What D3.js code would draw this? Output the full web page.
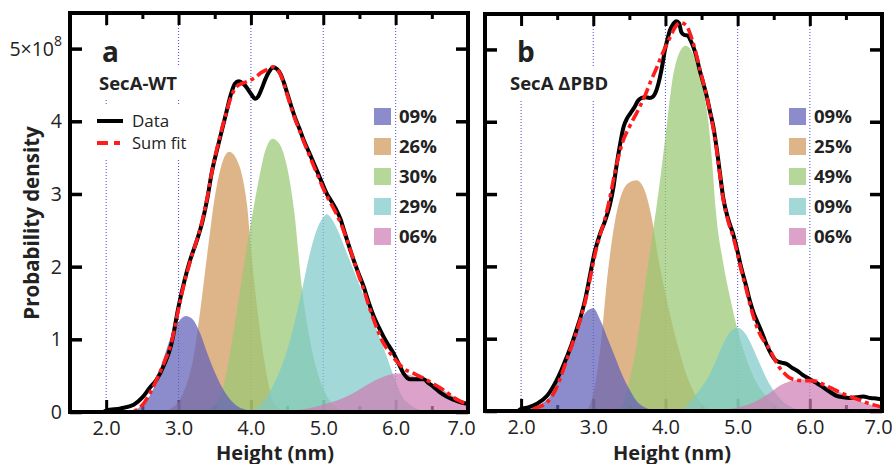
<!DOCTYPE html>
<html>
<head>
<meta charset="utf-8">
<script src="https://cdn.jsdelivr.net/npm/d3@7"></script>
<style>
  body { margin: 0; background: #fff; }
  text { font-family: "Open Sans", "DejaVu Sans", sans-serif; fill: #222; }
</style>
</head>
<body>
<svg id="chart" width="892" height="464"></svg>
<script>
// Height histograms of SecA (probability density, units of 1e8) with Gaussian-like component fits.

const xMajorTicks = [2, 3, 4, 5, 6, 7];
const xMinorTicks = [1.5, 2.5, 3.5, 4.5, 5.5, 6.5];
const yTicks = [0, 1, 2, 3, 4, 5];

const legendLabelsA = ["09%", "26%", "30%", "29%", "06%"];
const legendLabelsB = ["09%", "25%", "49%", "09%", "06%"];

// Panel a: SecA-WT  — [height (nm), density (1e8)]
const dataA = [[1.5,0],[1.95,0],[2.0,0.02],[2.2,0.05],[2.38,0.1],[2.5,0.2],[2.6,0.33],[2.7,0.45],[2.8,0.65],[2.9,0.93],
  [3.0,1.45],[3.08,1.8],[3.16,2.09],[3.25,2.35],[3.33,2.62],[3.4,2.95],[3.46,3.3],[3.53,3.6],[3.6,3.88],[3.66,4.12],
  [3.72,4.36],[3.78,4.52],[3.83,4.55],[3.88,4.53],[3.93,4.48],[4.0,4.38],[4.06,4.31],[4.1,4.34],[4.15,4.45],[4.2,4.58],
  [4.25,4.68],[4.31,4.74],[4.36,4.72],[4.41,4.65],[4.46,4.52],[4.5,4.39],[4.56,4.2],[4.61,4.05],[4.67,3.9],[4.73,3.74],
  [4.8,3.58],[4.87,3.42],[4.93,3.28],[4.98,3.16],[5.05,3.0],[5.1,2.92],[5.17,2.8],[5.24,2.65],[5.28,2.52],[5.35,2.3],
  [5.42,2.09],[5.49,1.9],[5.56,1.72],[5.63,1.5],[5.7,1.31],[5.77,1.16],[5.83,1.04],[5.9,0.92],[5.97,0.81],[6.04,0.67],
  [6.11,0.53],[6.16,0.47],[6.2,0.45],[6.3,0.45],[6.39,0.45],[6.45,0.4],[6.52,0.35],[6.6,0.28],[6.71,0.21],[6.85,0.15],[7.0,0.11]];

const fitA = [[1.5,0],[2.35,0],[2.45,0.05],[2.52,0.12],[2.6,0.25],[2.7,0.45],[2.8,0.68],[2.9,0.95],[3.0,1.42],[3.08,1.78],
  [3.16,2.07],[3.25,2.36],[3.33,2.64],[3.4,2.97],[3.46,3.3],[3.53,3.62],[3.6,3.9],[3.66,4.12],[3.72,4.32],[3.78,4.45],
  [3.85,4.51],[3.93,4.54],[4.0,4.57],[4.07,4.61],[4.13,4.66],[4.2,4.7],[4.26,4.73],[4.31,4.75],[4.36,4.72],[4.41,4.64],
  [4.46,4.5],[4.5,4.37],[4.56,4.18],[4.61,4.03],[4.67,3.88],[4.73,3.72],[4.8,3.55],[4.87,3.38],[4.93,3.24],[4.98,3.12],
  [5.05,2.97],[5.1,2.88],[5.17,2.75],[5.24,2.6],[5.28,2.5],[5.35,2.3],[5.42,2.09],[5.49,1.88],[5.56,1.68],[5.63,1.46],
  [5.7,1.26],[5.77,1.08],[5.83,0.95],[5.9,0.84],[5.97,0.75],[6.04,0.67],[6.11,0.6],[6.25,0.53],[6.43,0.44],[6.62,0.33],
  [6.85,0.17],[7.0,0.1]];

const comp1A = [[2.2,0],[2.3,0.01],[2.4,0.03],[2.5,0.1],[2.6,0.22],[2.7,0.44],[2.8,0.76],[2.9,1.05],[3.0,1.24],[3.1,1.32],
  [3.2,1.27],[3.3,1.08],[3.4,0.8],[3.5,0.55],[3.6,0.34],[3.7,0.19],[3.8,0.09],[3.9,0.04],[4.0,0.01],[4.1,0]];
const comp2A = [[2.8,0],[2.9,0.05],[3.0,0.14],[3.1,0.35],[3.2,0.72],[3.3,1.4],[3.4,2.2],[3.5,2.95],[3.6,3.42],[3.7,3.58],
  [3.8,3.48],[3.9,3.15],[3.95,2.82],[4.0,2.25],[4.1,1.32],[4.2,0.62],[4.3,0.16],[4.4,0.04],[4.5,0]];
const comp3A = [[3.3,0],[3.4,0.04],[3.5,0.11],[3.6,0.28],[3.7,0.75],[3.8,1.35],[3.9,2.0],[4.0,2.6],[4.1,3.15],[4.2,3.6],
  [4.3,3.76],[4.4,3.68],[4.5,3.37],[4.6,2.75],[4.7,1.75],[4.8,1.08],[4.9,0.62],[5.0,0.32],[5.1,0.14],[5.2,0.05],[5.3,0.01],[5.4,0]];
const comp4A = [[3.9,0],[4.0,0.02],[4.1,0.06],[4.2,0.18],[4.3,0.35],[4.4,0.57],[4.5,0.85],[4.6,1.22],[4.7,1.65],[4.8,2.12],
  [4.9,2.48],[5.0,2.68],[5.05,2.72],[5.1,2.68],[5.2,2.5],[5.3,2.25],[5.4,2.0],[5.5,1.75],[5.6,1.48],[5.7,1.23],[5.8,0.97],
  [5.9,0.7],[6.0,0.42],[6.1,0.2],[6.2,0.1],[6.3,0.04],[6.4,0.01],[6.5,0]];
const comp5A = [[4.4,0],[4.6,0.02],[4.8,0.05],[5.0,0.1],[5.2,0.16],[5.4,0.25],[5.6,0.37],[5.8,0.47],[6.0,0.53],[6.1,0.53],
  [6.2,0.51],[6.4,0.43],[6.6,0.33],[6.8,0.22],[7.0,0.13]];

// Panel b: SecA ΔPBD
const dataB = [[1.5,0],[1.95,0],[2.0,0.03],[2.1,0.05],[2.22,0.1],[2.36,0.21],[2.49,0.42],[2.56,0.57],[2.63,0.74],[2.7,0.92],
  [2.77,1.13],[2.83,1.32],[2.89,1.55],[2.95,1.85],[3.02,2.2],[3.09,2.44],[3.16,2.62],[3.23,2.85],[3.28,3.1],[3.32,3.38],
  [3.37,3.68],[3.42,3.93],[3.47,4.05],[3.51,4.11],[3.57,4.2],[3.62,4.29],[3.67,4.33],[3.72,4.34],[3.78,4.33],[3.83,4.35],
  [3.88,4.45],[3.92,4.6],[3.96,4.8],[3.99,4.98],[4.03,5.15],[4.06,5.26],[4.1,5.34],[4.15,5.39],[4.19,5.36],[4.22,5.24],
  [4.26,5.2],[4.31,5.19],[4.35,5.12],[4.38,5.05],[4.43,4.9],[4.47,4.73],[4.52,4.55],[4.57,4.36],[4.62,4.13],[4.66,3.95],
  [4.71,3.63],[4.76,3.25],[4.8,2.95],[4.87,2.65],[4.94,2.44],[5.0,2.2],[5.05,1.98],[5.12,1.72],[5.17,1.52],[5.22,1.36],
  [5.26,1.26],[5.33,1.1],[5.4,0.92],[5.47,0.78],[5.54,0.69],[5.61,0.67],[5.68,0.65],[5.75,0.6],[5.82,0.56],[5.9,0.5],
  [6.0,0.44],[6.09,0.39],[6.18,0.33],[6.27,0.27],[6.37,0.21],[6.46,0.19],[6.55,0.18],[6.65,0.19],[6.74,0.2],[6.84,0.18],
  [6.94,0.17],[7.0,0.16]];

const fitB = [[1.5,0],[2.1,0],[2.2,0.04],[2.36,0.12],[2.49,0.32],[2.56,0.5],[2.63,0.7],[2.7,0.9],[2.77,1.1],[2.83,1.3],
  [2.89,1.52],[2.95,1.8],[3.02,2.15],[3.09,2.42],[3.16,2.65],[3.23,2.95],[3.3,3.3],[3.4,3.7],[3.51,3.95],[3.6,4.12],
  [3.72,4.37],[3.8,4.57],[3.88,4.75],[3.97,4.97],[4.06,5.16],[4.13,5.3],[4.2,5.37],[4.28,5.34],[4.33,5.25],[4.38,5.1],
  [4.43,4.92],[4.47,4.75],[4.52,4.56],[4.57,4.36],[4.62,4.12],[4.66,3.92],[4.71,3.6],[4.76,3.22],[4.8,2.93],[4.87,2.62],
  [4.94,2.4],[5.0,2.16],[5.05,1.95],[5.12,1.68],[5.17,1.48],[5.22,1.3],[5.26,1.18],[5.33,1.02],[5.4,0.92],[5.44,0.86],
  [5.51,0.72],[5.58,0.6],[5.65,0.52],[5.72,0.46],[5.8,0.43],[5.9,0.42],[6.0,0.42],[6.09,0.41],[6.18,0.37],[6.27,0.33],
  [6.37,0.28],[6.46,0.24],[6.55,0.2],[6.64,0.17],[6.74,0.13],[6.83,0.1],[6.97,0.06],[7.0,0.05]];

const comp1B = [[2.0,0],[2.1,0.02],[2.2,0.05],[2.3,0.11],[2.4,0.2],[2.5,0.38],[2.6,0.6],[2.7,0.88],[2.8,1.18],[2.9,1.37],
  [3.0,1.42],[3.1,1.25],[3.2,1.0],[3.3,0.75],[3.4,0.5],[3.5,0.3],[3.6,0.14],[3.7,0.06],[3.8,0.02],[3.9,0]];
const comp2B = [[2.9,0],[2.95,0.08],[3.0,0.24],[3.1,0.88],[3.2,1.9],[3.3,2.62],[3.4,3.02],[3.5,3.16],[3.6,3.19],[3.7,3.08],
  [3.8,2.72],[3.9,2.12],[4.0,1.62],[4.1,1.18],[4.2,0.8],[4.3,0.48],[4.4,0.25],[4.5,0.1],[4.6,0.03],[4.7,0]];
const comp3B = [[3.3,0],[3.4,0.08],[3.5,0.42],[3.6,0.9],[3.7,1.62],[3.8,2.3],[3.9,3.0],[4.0,3.8],[4.1,4.6],[4.2,4.97],
  [4.28,5.05],[4.35,5.0],[4.4,4.9],[4.5,4.55],[4.6,3.95],[4.65,3.4],[4.7,2.75],[4.8,2.05],[4.9,1.55],[5.0,1.12],[5.1,0.78],
  [5.2,0.52],[5.3,0.33],[5.4,0.2],[5.5,0.1],[5.6,0.04],[5.7,0]];
const comp4B = [[4.2,0],[4.3,0.08],[4.4,0.2],[4.5,0.33],[4.6,0.48],[4.7,0.7],[4.8,0.93],[4.9,1.1],[5.0,1.15],[5.1,1.08],
  [5.2,0.9],[5.3,0.67],[5.4,0.45],[5.5,0.28],[5.6,0.16],[5.7,0.08],[5.8,0.03],[5.9,0]];
const comp5B = [[4.6,0],[4.8,0.02],[5.0,0.05],[5.2,0.11],[5.4,0.22],[5.6,0.36],[5.8,0.43],[5.9,0.44],[6.0,0.43],[6.2,0.36],
  [6.4,0.27],[6.6,0.17],[6.8,0.1],[7.0,0.05]];

// ---- styling ----
const compColors = ["#5f5fba", "#d0985a", "#98c973", "#7ec9c9", "#ce7eb4"];
const compOpacity = 0.72;
const drawOrder = [1, 2, 3, 4, 0];   // ochre, green, cyan, pink, then blue on top
const numFont = "Liberation Sans, Arial, sans-serif";

const svg = d3.select("#chart");
svg.append("rect").attr("width", 892).attr("height", 464).attr("fill", "#fff");

const panels = [
  { label: "a", title: "SecA-WT", frame: { left: 70, right: 468, top: 13, bottom: 412 },
    data: dataA, fit: fitA, comps: [comp1A, comp2A, comp3A, comp4A, comp5A], legend: legendLabelsA,
    showYLabels: true, showKey: true, legendX: 374, xTitleX: 275, lastLabelShift: -7 },
  { label: "b", title: "SecA \u0394PBD", frame: { left: 485, right: 882, top: 14, bottom: 411 },
    data: dataB, fit: fitB, comps: [comp1B, comp2B, comp3B, comp4B, comp5B], legend: legendLabelsB,
    showYLabels: false, showKey: false, legendX: 789, xTitleX: 672, lastLabelShift: -4 }
];

function knockout(layer, textSel, pad) {
  const b = textSel.node().getBBox();
  layer.insert("rect", () => textSel.node())
    .attr("x", b.x - pad).attr("y", b.y - pad)
    .attr("width", b.width + 2 * pad).attr("height", b.height + 2 * pad)
    .attr("fill", "#fff");
}

panels.forEach(p => {
  const f = p.frame;
  const x = d3.scaleLinear().domain([1.5, 7.0]).range([f.left, f.right]);
  const y = d3.scaleLinear().domain([0, 5.49]).range([f.bottom, f.top]);

  const g = svg.append("g");
  const gGrid = g.append("g");
  const gTicks = g.append("g");
  const gNotes = g.append("g");
  const gFills = g.append("g");
  const gLines = g.append("g");
  const gFrame = g.append("g");
  const gLegend = g.append("g");

  // dotted vertical grid
  gGrid.selectAll("line").data(xMajorTicks.filter(d => d < 7)).join("line")
    .attr("x1", d => x(d)).attr("x2", d => x(d))
    .attr("y1", f.top).attr("y2", f.bottom)
    .attr("stroke", "#5b5bd6").attr("stroke-width", 1.1).attr("stroke-dasharray", "1,2");

  // inward ticks on all four sides
  const styleAxis = (sel, w) => {
    sel.select(".domain").remove();
    sel.selectAll(".tick line").attr("stroke", "#000").attr("stroke-width", w);
  };
  const bottomMajor = gTicks.append("g").attr("transform", `translate(0,${f.bottom})`)
    .call(d3.axisBottom(x).tickValues(xMajorTicks).tickSize(-12).tickPadding(8.5).tickFormat(d3.format(".1f")));
  styleAxis(bottomMajor, 3);
  bottomMajor.selectAll("text").attr("font-size", 20).attr("font-family", numFont).attr("fill", "#222");
  bottomMajor.selectAll(".tick").filter(d => d === 7).select("text").attr("dx", p.lastLabelShift);
  styleAxis(gTicks.append("g").attr("transform", `translate(0,${f.bottom})`)
    .call(d3.axisBottom(x).tickValues(xMinorTicks).tickSize(-6).tickFormat("")), 3);
  styleAxis(gTicks.append("g").attr("transform", `translate(0,${f.top})`)
    .call(d3.axisTop(x).tickValues(xMajorTicks).tickSize(-12).tickFormat("")), 3);
  styleAxis(gTicks.append("g").attr("transform", `translate(0,${f.top})`)
    .call(d3.axisTop(x).tickValues(xMinorTicks).tickSize(-6).tickFormat("")), 3);
  styleAxis(gTicks.append("g").attr("transform", `translate(${f.left},0)`)
    .call(d3.axisLeft(y).tickValues(yTicks).tickSize(-12).tickFormat("")), 3.5);
  styleAxis(gTicks.append("g").attr("transform", `translate(${f.right},0)`)
    .call(d3.axisRight(y).tickValues(yTicks).tickSize(-12).tickFormat("")), 3.5);

  // y tick labels
  if (p.showYLabels) {
    yTicks.forEach(v => {
      const t = g.append("text").attr("x", f.left - 8).attr("y", y(v)).attr("dy", "0.36em")
        .attr("text-anchor", "end").attr("font-size", 19.5).attr("font-family", numFont);
      if (v === 5) {
        t.append("tspan").text("5\u00d710");
        t.append("tspan").attr("font-size", 14).attr("dy", -10).text("8");
      } else {
        t.text(v);
      }
    });
  }

  // panel letter and sample name
  const letter = gNotes.append("text").attr("x", f.left + 32).attr("y", 62)
    .attr("font-size", 28).attr("font-weight", "bold").attr("fill", "#000").text(p.label);
  knockout(gNotes, letter, 6);
  const title = gNotes.append("text").attr("x", f.left + (p.label === "a" ? 29 : 25)).attr("y", 90)
    .attr("font-size", 18.5).attr("font-weight", "bold").text(p.title);
  knockout(gNotes, title, 4);

  // component areas
  const area = d3.area().x(d => x(d[0])).y0(y(0)).y1(d => y(d[1])).curve(d3.curveMonotoneX);
  drawOrder.forEach(i => {
    gFills.append("path").attr("d", area(p.comps[i]))
      .attr("fill", compColors[i]).attr("fill-opacity", compOpacity);
  });

  // measured distribution and summed fit
  const line = d3.line().x(d => x(d[0])).y(d => y(d[1])).curve(d3.curveMonotoneX);
  gLines.append("path").attr("d", line(p.data)).attr("fill", "none")
    .attr("stroke", "#000").attr("stroke-width", 4).attr("stroke-linejoin", "round");
  gLines.append("path").attr("d", line(p.fit)).attr("fill", "none")
    .attr("stroke", "#ff1c1c").attr("stroke-width", 3.6).attr("stroke-dasharray", "12,4,4,4");

  // frame
  gFrame.append("rect").attr("x", f.left).attr("y", f.top)
    .attr("width", f.right - f.left).attr("height", f.bottom - f.top)
    .attr("fill", "none").attr("stroke", "#000").attr("stroke-width", 4);

  // component legend
  p.legend.forEach((lab, i) => {
    const cy = 116.5 + i * 30;
    gLegend.append("rect").attr("x", p.legendX).attr("y", cy - 8.5).attr("width", 17).attr("height", 17)
      .attr("fill", compColors[i]).attr("fill-opacity", compOpacity);
    gLegend.append("text").attr("x", p.legendX + 25).attr("y", cy).attr("dy", "0.36em")
      .attr("font-size", 18.5).attr("font-weight", "bold").text(lab);
  });

  // line key
  if (p.showKey) {
    const key = gNotes.append("g");
    key.append("line").attr("x1", 97).attr("x2", 123).attr("y1", 121).attr("y2", 121)
      .attr("stroke", "#000").attr("stroke-width", 4);
    key.append("line").attr("x1", 97).attr("x2", 123).attr("y1", 143).attr("y2", 143)
      .attr("stroke", "#ff1c1c").attr("stroke-width", 4).attr("stroke-dasharray", "11,6,6,6");
    key.append("text").attr("x", 132).attr("y", 121).attr("dy", "0.36em").attr("font-size", 17)
      .attr("fill", "#333").text("Data");
    key.append("text").attr("x", 132).attr("y", 143).attr("dy", "0.36em").attr("font-size", 16.5)
      .attr("fill", "#333").text("Sum fit");
    const b = key.node().getBBox();
    key.insert("rect", ":first-child").attr("x", b.x - 5).attr("y", b.y - 5)
      .attr("width", b.width + 10).attr("height", b.height + 10).attr("fill", "#fff");
  }

  // x axis title
  g.append("text").attr("x", p.xTitleX).attr("y", 459.5).attr("text-anchor", "middle")
    .attr("font-family", numFont).attr("font-size", 20).attr("font-weight", "bold").text("Height (nm)");
});

// y axis title
svg.append("text").attr("transform", "translate(39,223) rotate(-90)").attr("text-anchor", "middle")
  .attr("font-size", 20.5).attr("font-weight", "bold").text("Probability density");
</script>
</body>
</html>
